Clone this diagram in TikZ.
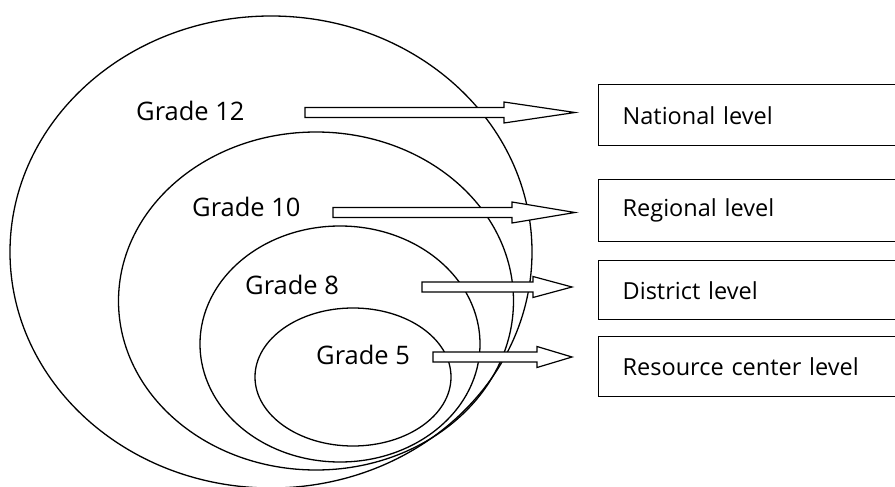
\documentclass[tikz,border=0pt]{standalone}
\usepackage{fontspec}
\setmainfont{Open Sans}
\usetikzlibrary{shapes.geometric,calc}
\tikzstyle{ring}=[ellipse,draw=black,line width=1.3pt,inner sep=0]
\tikzstyle{grade}=[anchor=west,inner sep=0,font=\fontsize{25.5}{30}\selectfont]
\tikzset{
  levelbox/.style={
    draw=black,
    line width=1.4pt,
    anchor=north west,
    text width=250pt,
    inner xsep=24pt,
    inner ysep=0,
    minimum height=61pt,
    align=left,
    font=\fontsize{23.5}{28}\selectfont
  }
}
% block arrow: tail, tip, head length
\newcommand{\blockarrow}[3]{%
  \draw[line width=1.2pt,fill=white,line join=miter] ($(#1)+(0,-5)$) -- ($(#2)+(-#3,-5)$)
    -- ($(#2)+(-#3,-10.5)$) -- (#2) -- ($(#2)+(-#3,10.5)$) -- ($(#2)+(-#3,5)$)
    -- ($(#1)+(0,5)$) -- cycle;}

\begin{document}
\begin{tikzpicture}[x=1pt,y=-1pt]
\useasboundingbox[fill=white] (0,0) rectangle (895,487);

\node[ring,minimum width=522pt,minimum height=472pt] (e12) at (271,252) {};
\node[ring,minimum width=395pt,minimum height=338pt] (e10) at (316,301) {};
\node[ring,minimum width=280pt,minimum height=236pt] (e8) at (340,344) {};
\node[ring,minimum width=196pt,minimum height=138pt] (e5) at (353,377) {};

\node[grade] (g12) at (136,110.5) {Grade 12};
\node[grade] (g10) at (192,207) {Grade 10};
\node[grade] (g8) at (245,285) {Grade 8};
\node[grade] (g5) at (316,355) {Grade 5};

\node[levelbox] (nat) at (598,84) {National level};
\node[levelbox,minimum height=62pt] (reg) at (598,179) {Regional level};
\node[levelbox,minimum height=59pt] (dis) at (598,260) {District level};
\node[levelbox,minimum height=60pt] (res) at (598,336) {Resource center level};

\coordinate (a12) at (305,112.5);
\coordinate (b12) at (575,112.5);
\coordinate (a10) at (333,212.5);
\coordinate (b10) at (575,212.5);
\coordinate (a8) at (422,287);
\coordinate (b8) at (572,287);
\coordinate (a5) at (433,357);
\coordinate (b5) at (572,357);

\blockarrow{a12}{b12}{71}
\blockarrow{a10}{b10}{63}
\blockarrow{a8}{b8}{39}
\blockarrow{a5}{b5}{35}

\end{tikzpicture}
\end{document}
